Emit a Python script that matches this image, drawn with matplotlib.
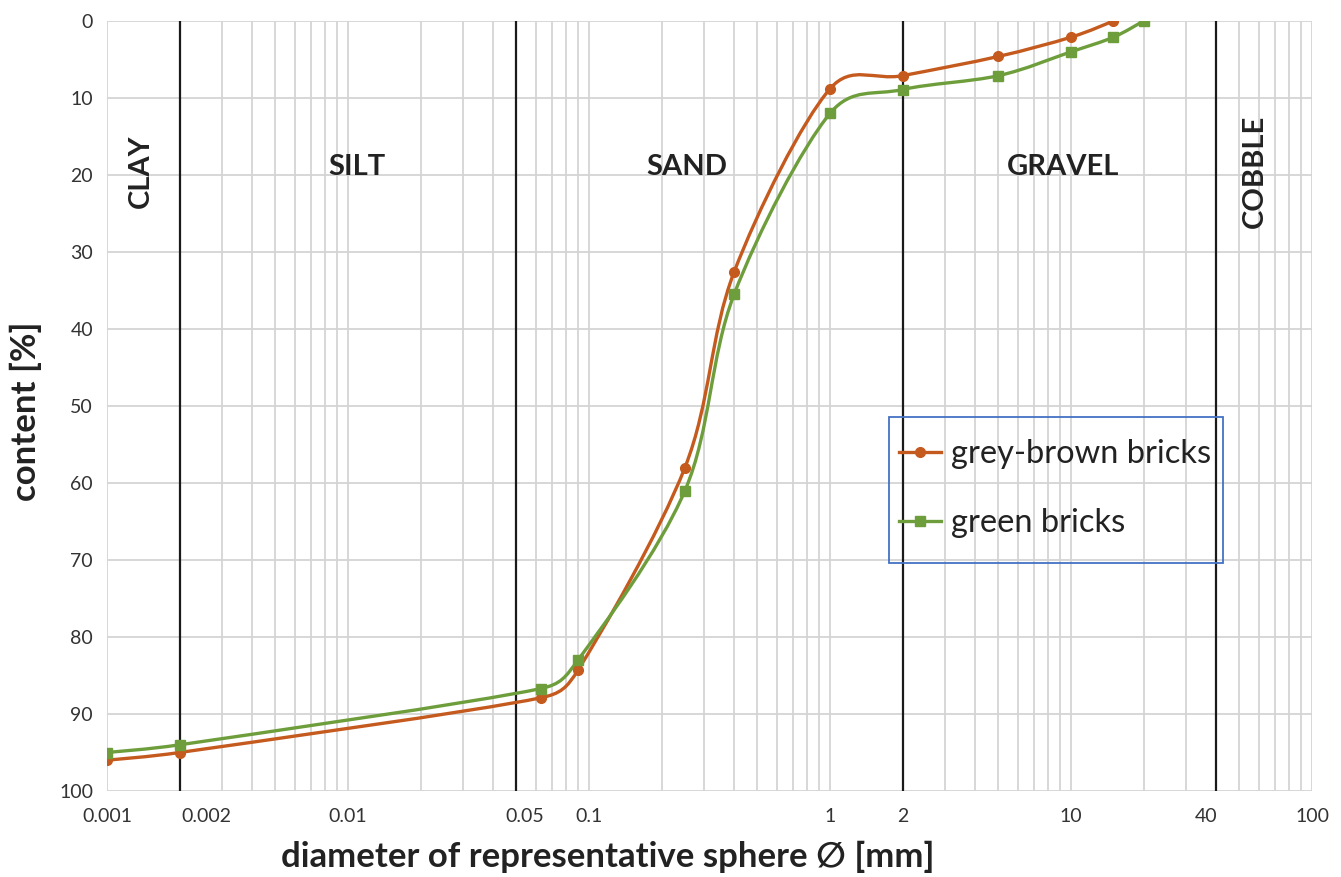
import numpy as np
import matplotlib
matplotlib.use('Agg')
import matplotlib.pyplot as plt
from matplotlib.path import Path
from matplotlib.patches import PathPatch, Rectangle
from matplotlib.lines import Line2D
from matplotlib.ticker import LogLocator, NullFormatter
from matplotlib.transforms import ScaledTranslation

plt.rcParams['font.family'] = ['Lato', 'DejaVu Sans']

# grain size distribution, content [%] at each sieve size [mm]
x_brown = [0.001, 0.002, 0.063, 0.09, 0.25, 0.4, 1, 2, 5, 10, 15]
y_brown = [96.0, 95.0, 87.9, 84.3, 58.0, 32.6, 8.8, 7.1, 4.6, 2.1, 0.0]
x_green = [0.001, 0.002, 0.063, 0.09, 0.25, 0.4, 1, 2, 5, 10, 15, 20]
y_green = [95.0, 94.0, 86.7, 83.0, 61.0, 35.5, 12.0, 8.9, 7.1, 4.0, 2.1, 0.0]

# fraction boundaries and tick labels
bounds = [0.002, 0.05, 2, 40]
xticks = [0.001, 0.002, 0.01, 0.05, 0.1, 1, 2, 10, 40, 100]
xtick_labels = ['0.001', '0.002', '0.01', '0.05', '0.1', '1', '2', '10', '40', '100']
yticks = list(range(0, 101, 10))

brown = '#C55A1E'
green = '#6E9E3C'

# screen scale used for smoothing (px per decade, px per %)
SX, SY = 241.0, 7.7


def smooth_path(xs, ys):
    # Excel-like smooth line: cubic Bezier through the points, tangents
    # from the neighbours (Catmull-Rom), handles limited by segment length
    pts = np.column_stack([np.log10(xs) * SX, np.array(ys) * SY])
    n = len(pts)
    tang, span = [], []
    for i in range(n):
        d = pts[min(i + 1, n - 1)] - pts[max(i - 1, 0)]
        span.append(np.hypot(*d))
        tang.append(d / np.hypot(*d))
    verts = [pts[0]]
    codes = [Path.MOVETO]
    for i in range(n - 1):
        p1, p2 = pts[i], pts[i + 1]
        L = np.hypot(*(p2 - p1))
        h1 = min(span[i] / 6.0, 0.45 * L)
        h2 = min(span[i + 1] / 6.0, 0.45 * L)
        verts += [p1 + tang[i] * h1, p2 - tang[i + 1] * h2, p2]
        codes += [Path.CURVE4] * 3
    verts = np.array(verts)
    verts[:, 0] = 10 ** (verts[:, 0] / SX)
    verts[:, 1] = verts[:, 1] / SY
    return Path(verts, codes)


fig = plt.figure(figsize=(13.41, 8.77), dpi=100)
ax = fig.add_axes([107 / 1341, 1 - 791 / 877, 1205 / 1341, 770 / 877])

ax.set_xscale('log')
ax.set_xlim(0.001, 100)
ax.set_ylim(100, 0)

ax.xaxis.set_minor_locator(LogLocator(base=10, subs=np.arange(2, 10)))
ax.xaxis.set_minor_formatter(NullFormatter())
ax.set_xticks(xticks)
ax.set_xticklabels(xtick_labels)
ax.set_yticks(yticks)
ax.grid(which='both', axis='x', color='#d4d4d4', linewidth=1.3, zorder=0)
ax.grid(which='major', axis='y', color='#d4d4d4', linewidth=1.3, zorder=0)
ax.set_axisbelow(True)
for s in ax.spines.values():
    s.set_visible(False)
ax.tick_params(which='both', length=0)
ax.tick_params(axis='x', labelsize=14, pad=12, colors='#333333')
ax.tick_params(axis='y', labelsize=14, pad=10, colors='#333333')

# shift a few tick labels like in the original
shifts = {'0.002': 27, '0.05': 8, '40': -10}
for lab in ax.get_xticklabels():
    dx = shifts.get(lab.get_text(), 0)
    if dx:
        lab.set_transform(lab.get_transform() + ScaledTranslation(dx / 100, 0, fig.dpi_scale_trans))

for b in bounds:
    ax.axvline(b, color='#1a1a1a', linewidth=1.6, zorder=1)

ax.add_patch(PathPatch(smooth_path(x_brown, y_brown), facecolor='none', edgecolor=brown,
                       linewidth=2.4, zorder=3, capstyle='round'))
ax.add_patch(PathPatch(smooth_path(x_green, y_green), facecolor='none', edgecolor=green,
                       linewidth=2.4, zorder=3, capstyle='round'))
ax.plot(x_brown, y_brown, 'o', color=brown, markersize=7, linestyle='none', zorder=4)
ax.plot(x_green, y_green, 's', color=green, markersize=7.5, linestyle='none', zorder=4)

# fraction names
zone_kw = dict(fontsize=21, fontweight='bold', color='#222222', ha='center', va='center')
ax.text(0.00138, 19.5, 'CLAY', rotation=90, **zone_kw)
ax.text(0.0109, 19.0, 'SILT', **zone_kw)
ax.text(0.255, 19.0, 'SAND', **zone_kw)
ax.text(9.3, 19.0, 'GRAVEL', **zone_kw)
ax.text(58, 19.5, 'COBBLE', rotation=90, **zone_kw)

# legend with a separate blue box
handles = [Line2D([], [], color=brown, marker='o', markersize=7, linewidth=2.4),
           Line2D([], [], color=green, marker='s', markersize=7, linewidth=2.4)]
ax.legend(handles, ['grey-brown bricks', 'green bricks'], loc='upper left',
          bbox_to_anchor=((899 - 107) / 1205, (791 - 439) / 770), frameon=False,
          fontsize=23.5, borderpad=0, borderaxespad=0, labelspacing=1.2,
          handlelength=1.3, handletextpad=0.3, labelcolor='#222222')
ax.add_patch(Rectangle(((889 - 107) / 1205, (791 - 563) / 770), 334 / 1205, 146 / 770,
                       transform=ax.transAxes, facecolor='none', edgecolor='#4472C4',
                       linewidth=1.3, zorder=5, clip_on=False))

ax.set_xlabel('diameter of representative sphere \u2205 [mm]', fontsize=25,
              fontweight='bold', color='#222222')
ax.xaxis.set_label_coords((608 - 107) / 1205, (791 - 857) / 770)
ax.xaxis.label.set_va('center')
ax.set_ylabel('content [%]', fontsize=25, fontweight='bold', color='#222222')
ax.yaxis.set_label_coords((26 - 107) / 1205, (791 - 411) / 770)
ax.yaxis.label.set_va('center')

fig.savefig('out.png', dpi=100)
